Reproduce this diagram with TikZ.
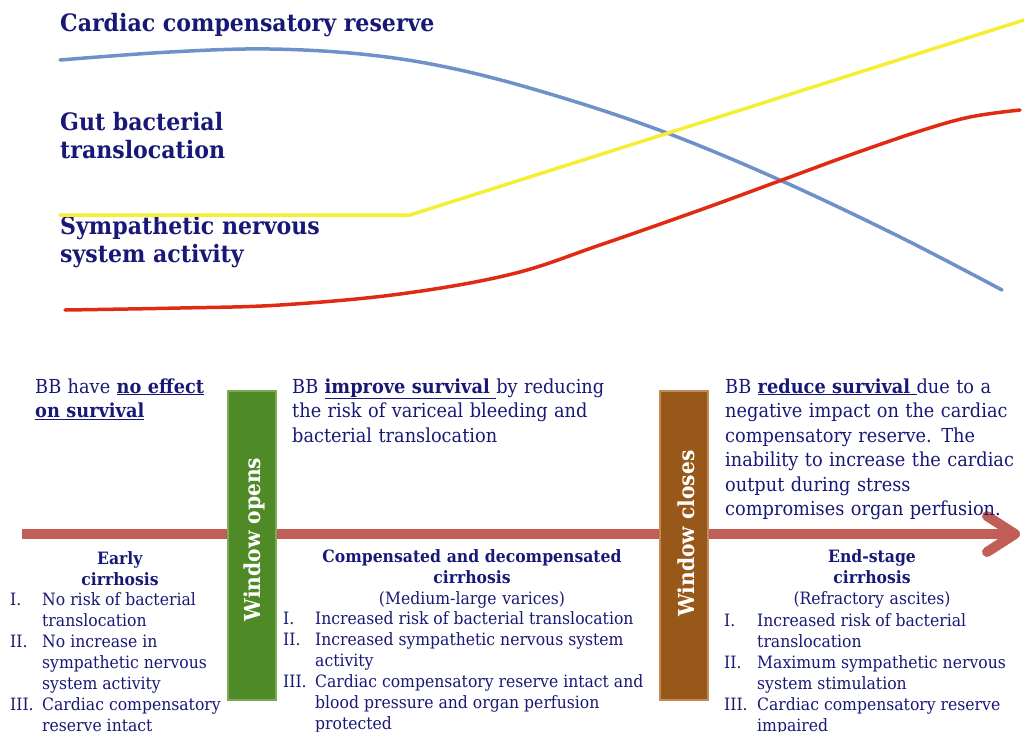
\documentclass[tikz,border=0pt]{standalone}
\usepackage{fontspec}
\setmainfont{DejaVu Serif}[FakeStretch=0.92]
\usetikzlibrary{arrows.meta}

\definecolor{inkblue}{RGB}{24,24,118}
\definecolor{cardiacblue}{RGB}{111,144,200}
\definecolor{gutyellow}{RGB}{245,238,50}
\definecolor{snsred}{RGB}{224,42,18}
\definecolor{timeline}{RGB}{194,94,88}
\definecolor{opengreen}{RGB}{78,138,38}
\definecolor{openedge}{RGB}{126,170,88}
\definecolor{closebrown}{RGB}{152,88,26}
\definecolor{closeedge}{RGB}{190,140,90}

\tikzset{
  curvetitle/.style={anchor=base west, inner sep=0pt, align=left, text=inkblue,
    font=\fontsize{24}{28}\selectfont\bfseries},
  effect/.style={anchor=base west, inner sep=0pt, align=left, text=inkblue,
    font=\fontsize{19.3}{24.5}\selectfont},
  stage/.style={anchor=base, inner sep=0pt, align=center, text=inkblue,
    font=\fontsize{17}{21}\selectfont},
  steps/.style={anchor=base west, inner sep=0pt, text=inkblue,
    font=\fontsize{17}{21}\selectfont},
  window/.style={draw, line width=2pt, minimum width=48pt,
    minimum height=309pt, inner sep=0pt},
  windowlabel/.style={rotate=90, inner sep=0pt, text=white,
    font=\fontsize{22}{24}\selectfont\bfseries},
  curve/.style={line width=3.5pt, line cap=round, line join=round}
}

\begin{document}
\begin{tikzpicture}[x=1pt, y=-1pt]
\useasboundingbox (0,0) rectangle (1024,731);

% the three curves and their titles
\node[curvetitle] (cardiac) at (60,31) {Cardiac compensatory reserve};
\node[curvetitle] (gut) at (60,158) {Gut bacterial\\translocation};
\node[curvetitle] (sns) at (60,262) {Sympathetic nervous\\system activity};

\draw[curve, cardiacblue] plot[smooth, tension=0.6] coordinates
  {(60,60) (170,52) (270,49) (370,55) (460,70) (560,97) (667,133)
   (782,181) (900,237) (1002,290)};
\draw[curve, gutyellow] (60,215) -- (410,215) -- (1024,20);
\draw[curve, snsred] plot[smooth, tension=0.6] coordinates
  {(65,310) (180,308) (280,305) (400,294) (512,274) (600,245) (700,210)
   (782,180) (850,155) (920,131) (970,117) (1020,110)};

% timeline, under the two windows
\coordinate (tl-start) at (22,534);
\coordinate (tl-end) at (1020,534);
\draw[timeline, line width=10pt,
  -{Straight Barb[length=28pt 0, width=36pt 0, round]}] (tl-start) -- (tl-end);

\node[window, fill=opengreen, draw=openedge] (opens) at (252,545.5) {};
\node[windowlabel] (opens-label) at ([xshift=2pt, yshift=6pt]opens.center) {Window opens};
\node[window, fill=closebrown, draw=closeedge] (closes) at (684,545.5) {};
\node[windowlabel] (closes-label) at ([xshift=2pt, yshift=12pt]closes.center) {Window closes};

% effect of BB in each phase
\node[effect, text width=190pt] (noeffect) at (35,393)
  {BB have \underline{\textbf{no effect}}\\\underline{\textbf{on survival}}};
\node[effect, text width=350pt] (improve) at (292,393)
  {BB \underline{\textbf{improve survival}\ }by reducing\\
   the risk of variceal bleeding and\\bacterial translocation};
\node[effect, text width=300pt] (reduce) at (725,393)
  {BB \underline{\textbf{reduce survival}\ }due to a\\
   negative impact on the cardiac\\compensatory reserve. The\\
   inability to increase the cardiac\\output during stress\\
   compromises organ perfusion.};

% stages of cirrhosis
\node[stage, text width=200pt] (early) at (120,564) {\textbf{Early}\\\textbf{cirrhosis}};
\node[steps] (early-list) at (10,605)
  {\begin{tabular}[t]{@{}p{32pt}@{}l@{}}
   I.  & No risk of bacterial\\
       & translocation\\
   II. & No increase in\\
       & sympathetic nervous\\
       & system activity\\
   III.& Cardiac compensatory\\
       & reserve intact
   \end{tabular}};

\node[stage, text width=380pt] (compensated) at (472,562)
  {\textbf{Compensated and decompensated}\\\textbf{cirrhosis}\\(Medium-large varices)};
\node[steps] (compensated-list) at (283,624)
  {\begin{tabular}[t]{@{}p{32pt}@{}l@{}}
   I.  & Increased risk of bacterial translocation\\
   II. & Increased sympathetic nervous system\\
       & activity\\
   III.& Cardiac compensatory reserve intact and\\
       & blood pressure  and organ perfusion\\
       & protected
   \end{tabular}};

\node[stage, text width=300pt] (endstage) at (872,562)
  {\textbf{End-stage}\\\textbf{cirrhosis}\\(Refractory ascites)};
\node[steps] (endstage-list) at (724,626)
  {\begin{tabular}[t]{@{}p{33pt}@{}l@{}}
   I.  & Increased risk of bacterial\\
       & translocation\\
   II. & Maximum sympathetic nervous\\
       & system stimulation\\
   III.& Cardiac compensatory reserve\\
       & impaired
   \end{tabular}};
\end{tikzpicture}
\end{document}
